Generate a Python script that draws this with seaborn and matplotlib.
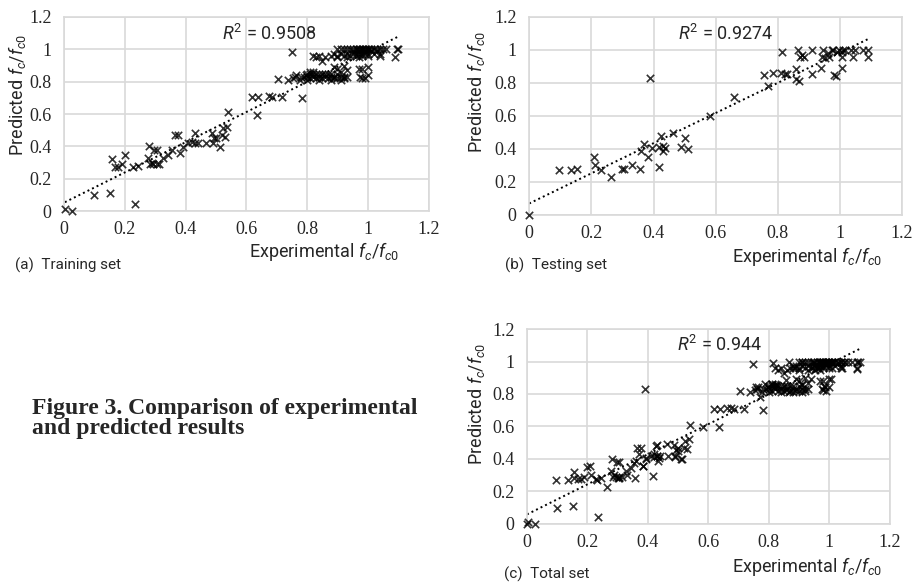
import numpy as np
import pandas as pd
import matplotlib
matplotlib.use("Agg")
import matplotlib.pyplot as plt
import seaborn as sns

# ---------------- data ----------------
train_x = [0.003, 0.027, 0.10, 0.151, 0.234, 0.157, 0.20, 0.19, 0.168, 0.178, 0.228, 0.244,
           0.281, 0.296, 0.305, 0.277, 0.283, 0.294, 0.305, 0.314, 0.288, 0.327, 0.343, 0.354,
           0.365, 0.376, 0.382, 0.392, 0.409, 0.42, 0.43, 0.431, 0.44, 0.466, 0.486, 0.489,
           0.493, 0.513, 0.519, 0.524, 0.535, 0.54, 0.50, 0.53,
           0.62, 0.637, 0.675, 0.683, 0.716, 0.634, 0.749, 0.705, 0.782, 0.738, 0.754, 0.765,
           0.776, 0.798,
           # y ~ 1.0 band
           0.90, 0.91, 0.92, 0.93, 0.94, 0.95, 0.96, 0.965, 0.97, 0.975, 0.98, 0.985, 0.99,
           0.995, 1.0, 1.005, 1.01, 1.02, 1.03, 1.04, 1.05, 1.06, 1.095, 1.10,
           0.95, 0.97, 0.99, 1.01, 1.03,
           0.89, 0.91, 0.93, 0.95, 0.96, 0.97, 0.98, 0.99, 1.0, 1.02, 1.04,
           0.88, 0.90, 0.92, 0.94, 0.96, 0.98, 1.0, 1.04, 1.09,
           0.83, 0.86, 0.90, 0.93, 0.97, 0.85, 0.82, 0.84,
           # y ~ 0.8-0.86 band
           0.80, 0.81, 0.82, 0.83, 0.84, 0.85, 0.86, 0.87, 0.88, 0.90,
           0.80, 0.82, 0.84, 0.86, 0.88, 0.89, 0.91, 0.92, 0.93,
           0.81, 0.83, 0.85, 0.87, 0.89, 0.90, 0.92,
           0.80, 0.84, 0.88, 0.91,
           0.90, 0.92, 0.93, 0.91, 0.89,
           0.97, 0.98, 1.0, 0.975, 0.99, 1.0, 0.98,
           0.76, 0.78, 0.79, 0.81, 0.82]
train_y = [0.012, 0.0, 0.10, 0.113, 0.043, 0.32, 0.35, 0.29, 0.274, 0.274, 0.274, 0.28,
           0.40, 0.38, 0.38, 0.326, 0.29, 0.29, 0.29, 0.29, 0.30, 0.326, 0.346, 0.377,
           0.47, 0.47, 0.357, 0.398, 0.419, 0.43, 0.42, 0.484, 0.42, 0.419, 0.484, 0.42,
           0.455, 0.398, 0.47, 0.511, 0.52, 0.61, 0.45, 0.46,
           0.707, 0.707, 0.711, 0.707, 0.707, 0.594, 0.985, 0.816, 0.70, 0.81, 0.824, 0.84,
           0.81, 0.84,
           1.0, 1.0, 1.0, 1.0, 1.0, 1.0, 1.0, 1.0, 1.0, 1.0, 1.0, 1.0, 1.0,
           1.0, 1.0, 1.0, 1.0, 1.0, 1.0, 1.0, 1.0, 1.0, 1.0, 1.0,
           0.99, 0.99, 0.99, 0.99, 0.99,
           0.97, 0.97, 0.97, 0.97, 0.97, 0.97, 0.97, 0.97, 0.97, 0.97, 0.97,
           0.96, 0.96, 0.96, 0.96, 0.96, 0.96, 0.96, 0.96, 0.955,
           0.95, 0.95, 0.95, 0.95, 0.95, 0.93, 0.96, 0.96,
           0.85, 0.85, 0.85, 0.85, 0.85, 0.85, 0.85, 0.85, 0.85, 0.85,
           0.83, 0.83, 0.83, 0.83, 0.83, 0.83, 0.83, 0.83, 0.83,
           0.82, 0.82, 0.82, 0.82, 0.82, 0.82, 0.82,
           0.81, 0.81, 0.81, 0.81,
           0.88, 0.90, 0.87, 0.86, 0.89,
           0.88, 0.88, 0.89, 0.83, 0.82, 0.84, 0.825,
           0.83, 0.83, 0.83, 0.86, 0.86]

test_x = [0.0, 0.095, 0.136, 0.154, 0.207, 0.213, 0.231, 0.264, 0.30, 0.304, 0.33, 0.357,
          0.36, 0.37, 0.382, 0.395, 0.39, 0.417, 0.419, 0.425, 0.43, 0.432, 0.438, 0.464,
          0.489, 0.50, 0.51, 0.583, 0.66, 0.77, 0.757, 0.786, 0.81, 0.823, 0.813, 0.828,
          0.857, 0.857, 0.868, 0.866, 0.871, 0.879, 0.885, 0.909, 0.909, 0.939, 0.941,
          0.946, 0.952, 0.96, 0.965, 0.973, 0.981, 0.986, 0.989, 0.997, 1.005, 1.008,
          1.005, 1.016, 1.037, 1.043, 1.048, 1.075, 1.091, 1.091, 1.01, 0.978]
test_y = [0.0, 0.27, 0.27, 0.28, 0.354, 0.30, 0.27, 0.23, 0.28, 0.28, 0.30, 0.28,
          0.385, 0.43, 0.354, 0.405, 0.828, 0.293, 0.415, 0.48, 0.42, 0.385, 0.405, 0.495,
          0.41, 0.466, 0.40, 0.597, 0.715, 0.783, 0.846, 0.86, 0.86, 0.856, 0.99, 0.856,
          0.887, 0.824, 0.81, 1.0, 0.957, 0.972, 0.96, 0.856, 1.0, 0.89, 0.96,
          1.0, 0.95, 0.98, 0.96, 1.0, 0.85, 0.84, 0.985, 1.0, 0.99, 0.957,
          0.89, 1.0, 1.0, 0.96, 1.0, 1.0, 1.0, 0.957, 1.0, 1.0]

r2_labels = ["0.9508", "0.9274", "0.944"]
panel_captions = ["(a)  Training set", "(b)  Testing set", "(c)  Total set"]
ticks = [0, 0.2, 0.4, 0.6, 0.8, 1, 1.2]
tick_labels = ["0", "0.2", "0.4", "0.6", "0.8", "1", "1.2"]

train = pd.DataFrame({"x": train_x, "y": train_y})
test = pd.DataFrame({"x": test_x, "y": test_y})
total = pd.concat([train, test], ignore_index=True)

# ---------------- style ----------------
sns.set_theme(style="white")
SANS = "Roboto"
plt.rcParams["font.family"] = [SANS, "DejaVu Sans"]
plt.rcParams["mathtext.fontset"] = "custom"
plt.rcParams["mathtext.rm"] = SANS
plt.rcParams["mathtext.it"] = SANS + ":italic"
plt.rcParams["mathtext.bf"] = SANS + ":bold"

fig = plt.figure(figsize=(9.14, 5.85), dpi=100)

GRID = "#d9d9d9"
specs = [
    # data, axes rect, ylabel pos, xlabel pos, caption pos, r2 pos
    (train, [0.070, 0.639, 0.399, 0.332], (-0.10, 0.60), (0.92, -0.21), (0.016, 0.547), (0.52, 1.095)),
    (test, [0.579, 0.6325, 0.408, 0.3385], (-0.113, 0.62), (0.948, -0.212), (0.552, 0.547), (0.48, 1.10)),
    (total, [0.5766, 0.1043, 0.397, 0.3333], (-0.11, 0.615), (0.98, -0.219), (0.551, 0.019), (0.495, 1.10)),
]

for i, (df, rect, ylp, xlp, capp, r2p) in enumerate(specs):
    ax = fig.add_axes(rect)
    sns.regplot(data=df, x="x", y="y", ax=ax, ci=None, marker="x",
                scatter_kws=dict(color="black", s=28, linewidths=1.2, clip_on=False, zorder=3),
                line_kws=dict(color="black", ls=(0, (1, 1.6)), lw=1.4))
    ax.set_xlim(0, 1.2)
    ax.set_ylim(0, 1.2)
    ax.set_xticks(ticks)
    ax.set_yticks(ticks)
    ax.set_xticklabels(tick_labels, family="Liberation Serif", fontsize=13)
    ax.set_yticklabels(tick_labels, family="Liberation Serif", fontsize=13)
    ax.tick_params(axis="y", length=0, pad=9)
    ax.tick_params(axis="x", length=0, pad=7)
    ax.grid(True, color=GRID, lw=1.2)
    ax.set_axisbelow(True)
    for s in ax.spines.values():
        s.set_color(GRID)
        s.set_linewidth(1.2)
    ax.set_xlabel("")
    ax.set_ylabel(r"Predicted $f_c$/$f_{c0}$", fontsize=13)
    ax.yaxis.set_label_coords(*ylp)
    ax.text(xlp[0], xlp[1], r"Experimental $f_c$/$f_{c0}$", transform=ax.transAxes,
            ha="right", va="center", fontsize=13)
    ax.text(r2p[0], r2p[1], r"$R^2$ = " + r2_labels[i], ha="left", va="center",
            fontsize=13)
    fig.text(capp[0], capp[1], panel_captions[i], ha="left", va="center", fontsize=11)

fig.text(0.035, 0.284, "Figure 3. Comparison of experimental\nand predicted results",
         family="Liberation Serif", weight="bold", fontsize=17, ha="left", va="center",
         linespacing=0.95)

fig.savefig("out.png", dpi=100)
